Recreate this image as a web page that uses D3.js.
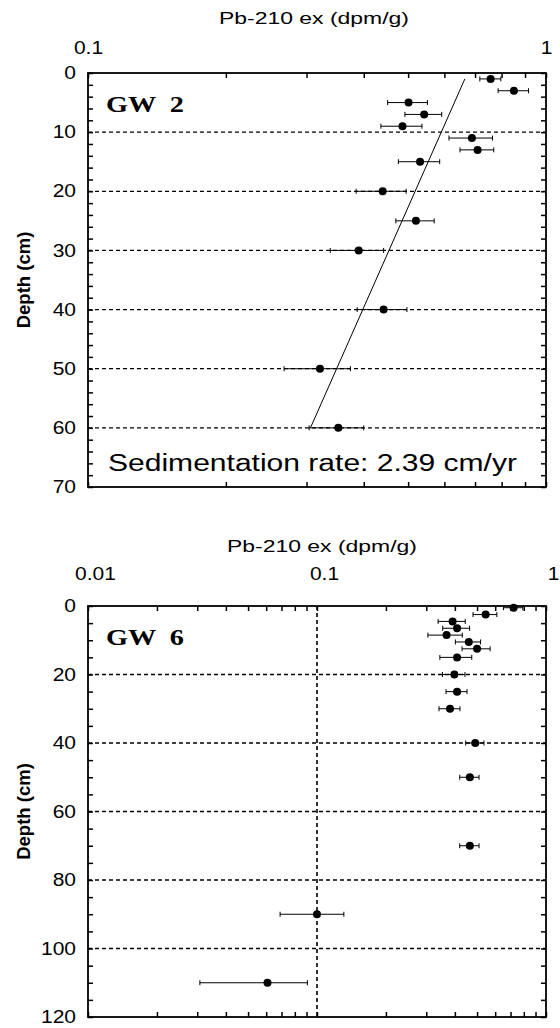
<!DOCTYPE html>
<html>
<head>
<meta charset="utf-8">
<script src="https://cdn.jsdelivr.net/npm/d3@7"></script>
<style>
  body { margin: 0; background: #fff; }
  svg { display: block; font-family: "Liberation Sans", Arial, sans-serif; }
</style>
</head>
<body>
<svg></svg>
<script>
/* GW 2 core: depth (cm), Pb-210 excess (dpm/g), error */
var gw2Depth = [1, 3, 5, 7, 9, 11, 13, 15, 20, 25, 30, 40, 50, 60];
var gw2Value = [0.757, 0.851, 0.501, 0.542, 0.486, 0.689, 0.709, 0.531, 0.440, 0.520, 0.390, 0.442, 0.321, 0.352];
var gw2Error = [0.04, 0.065, 0.05, 0.05, 0.05, 0.075, 0.06, 0.055, 0.055, 0.05, 0.052, 0.055, 0.053, 0.048];
// fitted line (ends)
var gw2FitDepth = [1, 60];
var gw2FitValue = [0.665, 0.306];

/* GW 6 core */
var gw6Depth = [0.5, 2.5, 4.5, 6.5, 8.5, 10.5, 12.5, 15, 20, 25, 30, 40, 50, 70, 90, 110];
var gw6Value = [0.722, 0.545, 0.391, 0.409, 0.368, 0.460, 0.500, 0.409, 0.398, 0.409, 0.381, 0.491, 0.465, 0.465, 0.100, 0.0608];
var gw6Error = [0.07, 0.065, 0.053, 0.055, 0.063, 0.058, 0.07, 0.065, 0.045, 0.043, 0.04, 0.045, 0.045, 0.045, 0.031, 0.030];

var gw2XTicks = [0.1, 1];
var gw6XTicks = [0.01, 0.1, 1];
var xTitle = 'Pb-210 ex (dpm/g)';
var yTitle = 'Depth (cm)';
var rateLabel = 'Sedimentation rate: 2.39 cm/yr';

var svgWidth = 560, svgHeight = 1028;
var left = 88, right = 546;

var svg = d3.select('svg')
    .attr('width', svgWidth)
    .attr('height', svgHeight);

// scanned figure is wider than normal type, so stretch text a bit
function stretch(sel, k) {
  sel.each(function() {
    var len = this.getComputedTextLength();
    d3.select(this).attr('textLength', len * k).attr('lengthAdjust', 'spacingAndGlyphs');
  });
}

function drawPanel(p) {
  var x = d3.scaleLog().domain(p.xDomain).range([left, right]);
  var y = d3.scaleLinear().domain([0, p.yMax]).range([p.top, p.bottom]);
  var g = svg.append('g');

  // dashed grid
  g.selectAll('.hgrid')
    .data(d3.range(p.gridStep, p.yMax, p.gridStep))
    .enter().append('line')
    .attr('x1', left).attr('x2', right)
    .attr('y1', function(d) { return y(d); })
    .attr('y2', function(d) { return y(d); })
    .attr('stroke', '#000').attr('stroke-width', 1.3)
    .attr('stroke-dasharray', '4,3');

  g.selectAll('.vgrid')
    .data(p.xTicks.slice(1, -1))
    .enter().append('line')
    .attr('x1', function(d) { return x(d); })
    .attr('x2', function(d) { return x(d); })
    .attr('y1', p.top).attr('y2', p.bottom)
    .attr('stroke', '#000').attr('stroke-width', 1.6)
    .attr('stroke-dasharray', '4,3');

  // inward minor ticks on all four sides
  var minorY = d3.range(0, p.yMax + 0.1, p.minorStep);
  var minorX = x.ticks();
  g.append('g').attr('transform', 'translate(' + left + ',0)')
    .call(d3.axisLeft(y).tickValues(minorY).tickSize(-5).tickFormat(''));
  g.append('g').attr('transform', 'translate(' + right + ',0)')
    .call(d3.axisRight(y).tickValues(minorY).tickSize(-5).tickFormat(''));
  g.append('g').attr('transform', 'translate(0,' + p.top + ')')
    .call(d3.axisTop(x).tickValues(minorX).tickSize(-5).tickFormat(''));
  g.append('g').attr('transform', 'translate(0,' + p.bottom + ')')
    .call(d3.axisBottom(x).tickValues(minorX).tickSize(-5).tickFormat(''));
  g.selectAll('.domain').remove();
  g.selectAll('.tick line').attr('stroke', '#000').attr('stroke-width', 1.5);

  // frame
  g.append('rect')
    .attr('x', left).attr('y', p.top)
    .attr('width', right - left).attr('height', p.bottom - p.top)
    .attr('fill', 'none').attr('stroke', '#000').attr('stroke-width', 1.8);

  // tick labels
  var xl = g.append('g').attr('transform', 'translate(' + p.xLabelShift + ',' + p.top + ')')
    .call(d3.axisTop(x).tickValues(p.xTicks).tickSize(0).tickPadding(p.xLabelPad).tickFormat(d3.format('~g')));
  var yl = g.append('g').attr('transform', 'translate(' + left + ',0)')
    .call(d3.axisLeft(y).tickValues(d3.range(0, p.yMax + 0.1, p.gridStep)).tickSize(0).tickPadding(12));
  xl.select('.domain').remove();
  yl.select('.domain').remove();
  g.selectAll('.tick text')
    .attr('font-family', '"Liberation Sans", Arial, sans-serif')
    .attr('font-size', 17.5).attr('fill', '#000');
  stretch(xl.selectAll('text'), 1.2);
  stretch(yl.selectAll('text'), 1.2);

  // axis titles
  g.append('text')
    .attr('x', p.titleX).attr('y', p.titleY)
    .attr('text-anchor', 'middle')
    .attr('font-size', 17)
    .attr('textLength', 190).attr('lengthAdjust', 'spacingAndGlyphs')
    .text(xTitle);

  g.append('text')
    .attr('transform', 'translate(30,' + ((p.top + p.bottom) / 2) + ') rotate(-90)')
    .attr('text-anchor', 'middle')
    .attr('font-size', 18.5).attr('font-weight', 'bold')
    .text(yTitle);

  // core name
  g.append('text')
    .attr('x', 106).attr('y', p.top + 39)
    .attr('font-family', '"Liberation Serif", "Times New Roman", serif')
    .attr('font-weight', 'bold').attr('font-size', 23)
    .attr('textLength', 78).attr('lengthAdjust', 'spacingAndGlyphs')
    .attr('xml:space', 'preserve')
    .text(p.name);

  // error bars
  var rows = p.depth.map(function(d, i) { return { depth: d, value: p.value[i], err: p.error[i] }; });
  var eb = g.selectAll('.err').data(rows).enter().append('g')
    .attr('stroke', '#000').attr('stroke-width', 1);
  eb.append('line')
    .attr('x1', function(d) { return x(d.value - d.err); })
    .attr('x2', function(d) { return x(d.value + d.err); })
    .attr('y1', function(d) { return y(d.depth); })
    .attr('y2', function(d) { return y(d.depth); });
  eb.append('line')
    .attr('x1', function(d) { return x(d.value - d.err); })
    .attr('x2', function(d) { return x(d.value - d.err); })
    .attr('y1', function(d) { return y(d.depth) - 2.5; })
    .attr('y2', function(d) { return y(d.depth) + 2.5; });
  eb.append('line')
    .attr('x1', function(d) { return x(d.value + d.err); })
    .attr('x2', function(d) { return x(d.value + d.err); })
    .attr('y1', function(d) { return y(d.depth) - 2.5; })
    .attr('y2', function(d) { return y(d.depth) + 2.5; });

  g.selectAll('.pt').data(rows).enter().append('circle')
    .attr('cx', function(d) { return x(d.value); })
    .attr('cy', function(d) { return y(d.depth); })
    .attr('r', 4)
    .attr('fill', '#000');

  return { x: x, y: y, g: g };
}

var top1 = drawPanel({
  xDomain: [0.1, 1], xTicks: gw2XTicks, yMax: 70, top: 73, bottom: 487,
  gridStep: 10, minorStep: 2, xLabelPad: 19, xLabelShift: 0,
  titleX: 314, titleY: 24, name: 'GW  2',
  depth: gw2Depth, value: gw2Value, error: gw2Error
});

// fitted line for GW 2
var fit = gw2FitDepth.map(function(d, i) { return [gw2FitValue[i], d]; });
top1.g.append('path')
  .datum(fit)
  .attr('d', d3.line()
    .x(function(d) { return top1.x(d[0]); })
    .y(function(d) { return top1.y(d[1]); }))
  .attr('fill', 'none').attr('stroke', '#000').attr('stroke-width', 1);

top1.g.append('text')
  .attr('x', 108).attr('y', 471)
  .attr('font-size', 23)
  .attr('textLength', 409).attr('lengthAdjust', 'spacingAndGlyphs')
  .text(rateLabel);

drawPanel({
  xDomain: [0.01, 1], xTicks: gw6XTicks, yMax: 120, top: 606, bottom: 1017,
  gridStep: 20, minorStep: 5, xLabelPad: 26, xLabelShift: 7,
  titleX: 322, titleY: 552, name: 'GW  6',
  depth: gw6Depth, value: gw6Value, error: gw6Error
});
</script>
</body>
</html>
